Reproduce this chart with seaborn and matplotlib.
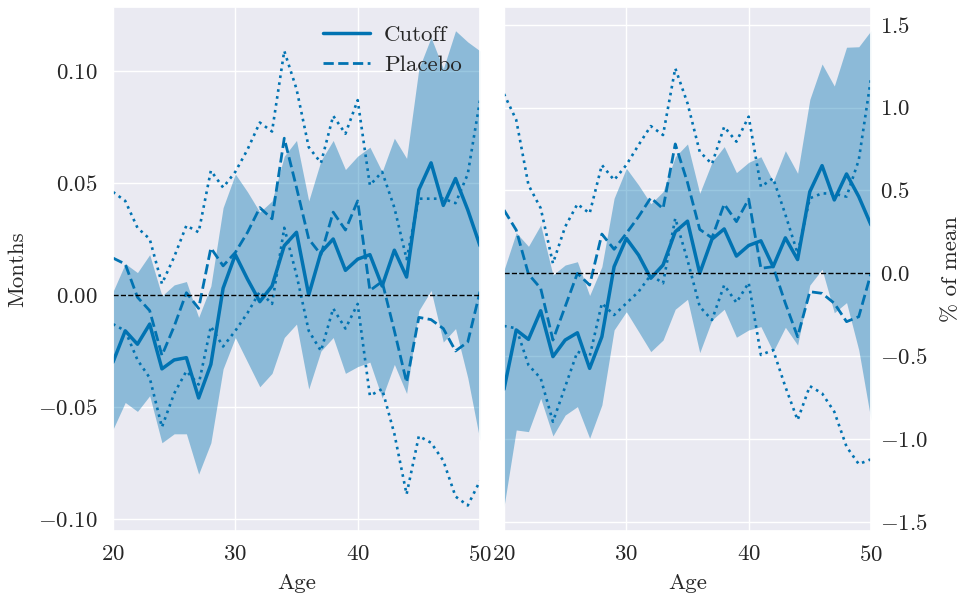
import numpy as np
import matplotlib
matplotlib.use("Agg")
import matplotlib.pyplot as plt
import seaborn as sns

# ---- data -----------------------------------------------------------------
ages = list(range(20, 51))

# Effect in months
cutoff_months = [-0.030, -0.016, -0.022, -0.013, -0.033, -0.029, -0.028, -0.046, -0.031, 0.003,
                 0.018, 0.007, -0.003, 0.004, 0.022, 0.028, 0.000, 0.019, 0.025, 0.011,
                 0.016, 0.018, 0.004, 0.020, 0.008, 0.047, 0.059, 0.040, 0.052, 0.038, 0.022]
cutoff_months_hi = [0.0015, 0.014, 0.010, 0.018, -0.0004, 0.0045, 0.006, -0.010, 0.004, 0.039,
                    0.054, 0.046, 0.037, 0.042, 0.062, 0.069, 0.042, 0.060, 0.069, 0.056,
                    0.062, 0.066, 0.055, 0.070, 0.061, 0.101, 0.115, 0.101, 0.118, 0.113, 0.109]
cutoff_months_lo = [-0.060, -0.048, -0.052, -0.045, -0.066, -0.062, -0.062, -0.080, -0.066, -0.033,
                    -0.019, -0.030, -0.041, -0.035, -0.019, -0.013, -0.042, -0.025, -0.019, -0.035,
                    -0.032, -0.030, -0.046, -0.031, -0.044, -0.007, 0.002, -0.021, -0.015, -0.037, -0.065]
placebo_months = [0.0165, 0.0138, -0.001, -0.007, -0.027, -0.014, 0.001, -0.006, 0.021, 0.013,
                  0.019, 0.028, 0.039, 0.034, 0.070, 0.048, 0.025, 0.018, 0.037, 0.029,
                  0.042, 0.002, 0.006, -0.016, -0.039, -0.010, -0.011, -0.015, -0.025, -0.021, 0.0015]
placebo_months_hi = [0.046, 0.042, 0.030, 0.025, 0.005, 0.017, 0.031, 0.028, 0.0555, 0.048,
                     0.055, 0.065, 0.077, 0.073, 0.109, 0.092, 0.066, 0.059, 0.080, 0.072,
                     0.087, 0.049, 0.055, 0.039, 0.016, 0.043, 0.043, 0.043, 0.041, 0.054, 0.087]
placebo_months_lo = [-0.013, -0.016, -0.029, -0.037, -0.059, -0.044, -0.034, -0.040, -0.014, -0.023,
                     -0.016, -0.008, 0.0015, -0.004, 0.030, 0.009, -0.016, -0.025, -0.006, -0.015,
                     -0.004, -0.045, -0.042, -0.062, -0.089, -0.063, -0.066, -0.074, -0.090, -0.094, -0.083]

# Effect as percent of the age-specific mean
cutoff_pct = [-0.70, -0.342, -0.399, -0.226, -0.503, -0.403, -0.359, -0.574, -0.383, 0.04,
              0.211, 0.11, -0.03, 0.05, 0.251, 0.315, 0.0, 0.206, 0.268, 0.104,
              0.168, 0.196, 0.04, 0.214, 0.083, 0.493, 0.65, 0.443, 0.60, 0.463, 0.292]
cutoff_pct_hi = [0.02, 0.245, 0.163, 0.292, -0.01, 0.05, 0.07, -0.134, 0.04, 0.453,
                 0.634, 0.533, 0.42, 0.493, 0.704, 0.781, 0.483, 0.67, 0.765, 0.608,
                 0.67, 0.704, 0.553, 0.74, 0.604, 1.05, 1.264, 1.131, 1.365, 1.368, 1.465]
cutoff_pct_lo = [-1.409, -0.946, -0.956, -0.755, -0.982, -0.856, -0.805, -0.996, -0.795, -0.342,
                 -0.232, -0.352, -0.473, -0.403, -0.217, -0.157, -0.479, -0.282, -0.217, -0.386,
                 -0.342, -0.322, -0.473, -0.326, -0.433, -0.071, 0.024, -0.238, -0.177, -0.463, -0.886]
placebo_pct = [0.382, 0.261, -0.005, -0.091, -0.403, -0.201, 0.0, -0.071, 0.237, 0.145,
               0.241, 0.342, 0.456, 0.39, 0.781, 0.548, 0.265, 0.214, 0.418, 0.312,
               0.448, 0.03, 0.04, -0.181, -0.383, -0.111, -0.121, -0.181, -0.292, -0.262, 0.0]
placebo_pct_hi = [1.083, 0.926, 0.533, 0.393, 0.06, 0.281, 0.418, 0.362, 0.654, 0.563,
                  0.654, 0.775, 0.889, 0.835, 1.238, 1.027, 0.734, 0.66, 0.885, 0.795,
                  0.946, 0.523, 0.574, 0.355, 0.12, 0.453, 0.483, 0.48, 0.463, 0.684, 1.177]
placebo_pct_lo = [-0.318, -0.332, -0.554, -0.634, -0.896, -0.685, -0.473, -0.503, -0.181, -0.252,
                  -0.181, -0.111, -0.01, -0.06, 0.332, 0.08, -0.201, -0.282, -0.071, -0.177,
                  -0.057, -0.493, -0.463, -0.685, -0.886, -0.681, -0.725, -0.836, -1.047, -1.152, -1.123]

x_ticks = [20, 30, 40, 50]
months_ticks = [-0.10, -0.05, 0.00, 0.05, 0.10]
pct_ticks = [-1.5, -1.0, -0.5, 0.0, 0.5, 1.0, 1.5]

# ---- style ----------------------------------------------------------------
sns.set_theme(style="darkgrid", palette="colorblind")
FS = 16.5
plt.rcParams.update({
    "font.family": ["serif"],
    "font.serif": ["cmr10", "DejaVu Serif"],
    "mathtext.fontset": "cm",
    "axes.formatter.use_mathtext": True,
    "font.size": FS,
    "axes.labelsize": FS,
    "xtick.labelsize": FS,
    "ytick.labelsize": FS,
    "legend.fontsize": FS,
})
color = sns.color_palette("colorblind")[0]

fig = plt.figure(figsize=(9.63, 5.97), dpi=100)
ax_l = fig.add_axes([113 / 963, 1 - 531 / 597, 367 / 963, 524 / 597])
ax_r = fig.add_axes([504 / 963, 1 - 531 / 597, 367 / 963, 524 / 597])


def draw_panel(ax, cut, cut_lo, cut_hi, plac, plac_lo, plac_hi):
    ax.fill_between(ages, cut_lo, cut_hi, color=color, alpha=0.4, lw=0)
    sns.lineplot(x=ages, y=cut, ax=ax, color=color, lw=2.5, label="Cutoff")
    sns.lineplot(x=ages, y=plac, ax=ax, color=color, lw=2.0, linestyle="--", label="Placebo")
    sns.lineplot(x=ages, y=plac_hi, ax=ax, color=color, lw=1.9, linestyle=":")
    sns.lineplot(x=ages, y=plac_lo, ax=ax, color=color, lw=1.9, linestyle=":")
    ax.axhline(0, color="black", linestyle="--", lw=1.0)
    ax.set_xlim(20, 50)
    ax.set_xticks(x_ticks)
    ax.set_xlabel("Age", labelpad=6)
    ax.tick_params(axis="x", length=0, pad=10)


draw_panel(ax_l, cutoff_months, cutoff_months_lo, cutoff_months_hi,
           placebo_months, placebo_months_lo, placebo_months_hi)
ax_l.set_ylim(-0.1054, 0.1286)
ax_l.set_yticks(months_ticks)
ax_l.set_ylabel("Months", labelpad=8)
ax_l.tick_params(axis="y", length=0, pad=11)
ax_l.legend(loc="upper right", frameon=False, handlelength=2.05, handletextpad=0.6,
            labelspacing=0.4, borderaxespad=0.4, bbox_to_anchor=(1.0, 1.0))

draw_panel(ax_r, cutoff_pct, cutoff_pct_lo, cutoff_pct_hi,
           placebo_pct, placebo_pct_lo, placebo_pct_hi)
ax_r.set_ylim(-1.556, 1.608)
ax_r.set_yticks(pct_ticks)
ax_r.yaxis.tick_right()
ax_r.yaxis.set_label_position("right")
ax_r.set_ylabel("% of mean", labelpad=10)
ax_r.tick_params(axis="y", length=0, pad=6.5)
ax_r.get_legend().remove()

fig.savefig("out.png", dpi=100)
